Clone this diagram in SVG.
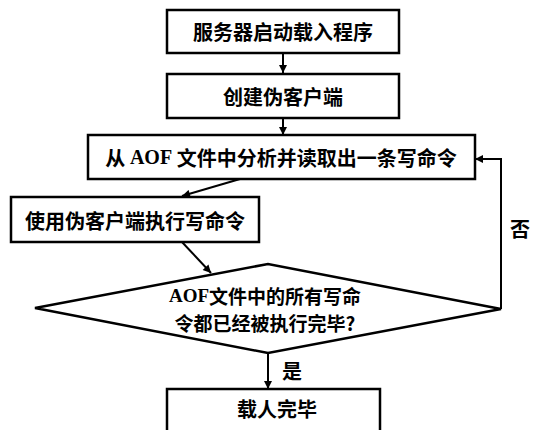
<svg xmlns="http://www.w3.org/2000/svg" width="535" height="430" viewBox="0 0 535 430">
<style>
.box{fill:#fff;stroke:#000;stroke-width:2.5}
.t{font-family:"Noto Sans CJK SC","Liberation Sans",sans-serif;font-size:20px;font-weight:700;fill:#000;text-anchor:middle;dominant-baseline:central}
.d{font-size:19px}
.s{font-family:"Liberation Serif",serif;font-weight:700}
.c{fill:none;stroke:#000;stroke-width:2}
</style>
<defs>
<marker id="ah" viewBox="0 0 10 10" refX="10" refY="5" markerWidth="10" markerHeight="8" markerUnits="userSpaceOnUse" orient="auto">
<path d="M0,0 L10,5 L0,10 z" fill="#000"/>
</marker>
</defs>
<rect width="535" height="430" fill="#fff"/>
<g id="connectors">
<line class="c" x1="283" y1="53" x2="283" y2="73" marker-end="url(#ah)"/>
<line class="c" x1="283" y1="118" x2="283" y2="135" marker-end="url(#ah)"/>
<line class="c" x1="240" y1="179" x2="182" y2="196" marker-end="url(#ah)"/>
<line class="c" x1="182" y1="242" x2="211" y2="273" marker-end="url(#ah)"/>
<polyline class="c" points="501,309 501,159 475,159" marker-end="url(#ah)"/>
<line class="c" x1="268" y1="353" x2="268" y2="389" marker-end="url(#ah)"/>
<text class="t" x="520" y="228">否</text>
<text class="t" x="292" y="370">是</text>
</g>
<g id="n1">
<rect class="box" x="167" y="10" width="232" height="43"/>
<text class="t" x="283" y="31">服务器启动载入程序</text>
</g>
<g id="n2">
<rect class="box" x="167" y="74" width="232" height="44"/>
<text class="t" x="283" y="96">创建伪客户端</text>
</g>
<g id="n3">
<rect class="box" x="88" y="135" width="387" height="44"/>
<text class="t" x="281" y="157">从 <tspan class="s">AOF</tspan> 文件中分析并读取出一条写命令</text>
</g>
<g id="n4">
<rect class="box" x="11" y="197" width="248" height="45"/>
<text class="t" x="135" y="220">使用伪客户端执行写命令</text>
</g>
<g id="n5">
<polygon class="box" points="35,308 268,264 501,309 268,353"/>
<text class="t d" x="265" y="295"><tspan class="s">AOF</tspan>文件中的所有写命</text>
<text class="t d" x="265" y="322">令都已经被执行完毕?</text>
</g>
<g id="n6">
<rect class="box" x="167" y="389" width="213" height="60"/>
<text class="t" x="277" y="408">载人完毕</text>
</g>
</svg>
